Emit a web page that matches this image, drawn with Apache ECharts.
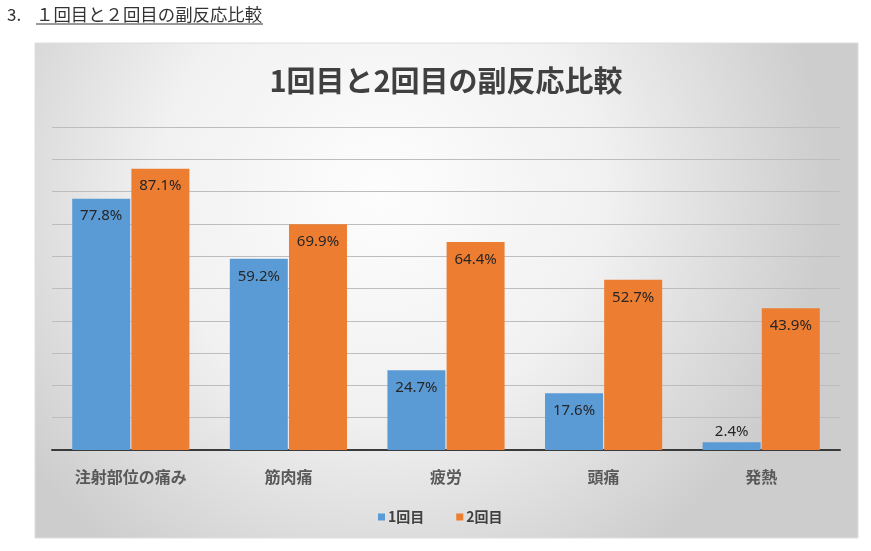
<!DOCTYPE html>
<html>
<head>
<meta charset="utf-8">
<script src="https://cdn.jsdelivr.net/npm/echarts@6/dist/echarts.min.js"></script>
<style>
html,body{margin:0;padding:0;background:#fff;}
#c{width:871px;height:551px;}
</style>
</head>
<body>
<div id="c"></div>
<script>
const headerNumber = '3.';
const headerText = '１回目と２回目の副反応比較';
const chartTitle = '1回目と2回目の副反応比較';
const categories = ['注射部位の痛み', '筋肉痛', '疲労', '頭痛', '発熱'];
const seriesNames = ['1回目', '2回目'];
const dose1 = [77.8, 59.2, 24.7, 17.6, 2.4];
const dose2 = [87.1, 69.9, 64.4, 52.7, 43.9];

const JP = '"Noto Sans CJK JP", "Noto Sans", sans-serif';
const colors = ['#5B9BD5', '#ED7D31'];

function toData(arr) {
  return arr.map(v => v < 5
    ? { value: v, label: { position: 'top', distance: 3 } }
    : { value: v });
}

const chart = echarts.init(document.getElementById('c'), null, { renderer: 'canvas' });
chart.setOption({
  animation: false,
  backgroundColor: '#ffffff',
  graphic: [
    {
      type: 'rect', z: -10, silent: true,
      shape: { x: 35, y: 43, width: 823, height: 495 },
      style: {
        fill: {
          type: 'radial', x: 0.42, y: 0.3, r: 0.9,
          colorStops: [
            { offset: 0, color: '#fdfdfd' },
            { offset: 0.5, color: '#f1f1f1' },
            { offset: 1, color: '#cdcdcd' }
          ]
        },
        stroke: '#dedede', lineWidth: 1
      }
    },
    {
      type: 'text', left: 7, top: 6,
      style: { text: headerNumber, font: '17px ' + JP, fill: '#333' }
    },
    {
      type: 'text', left: 36, top: 6,
      style: { text: headerText, font: '17.4px ' + JP, fill: '#333' }
    },
    {
      type: 'line', silent: true,
      shape: { x1: 36, y1: 24, x2: 263, y2: 24 },
      style: { stroke: '#333', lineWidth: 1 }
    },
    {
      type: 'text', x: 446, y: 81,
      style: { text: chartTitle, font: 'bold 29px ' + JP, fill: '#404040',
               textAlign: 'center', textVerticalAlign: 'middle' }
    }
  ],
  legend: {
    data: seriesNames,
    left: 373,
    top: 505,
    itemWidth: 7,
    itemHeight: 7,
    itemGap: 32,
    icon: 'rect',
    textStyle: { fontFamily: JP, fontSize: 14, fontWeight: 'bold', color: '#404040', padding: [0, 0, 0, -2] }
  },
  grid: { left: 52, right: 31, top: 127, bottom: 101, containLabel: false },
  xAxis: {
    type: 'category',
    data: categories,
    axisLine: { show: true, lineStyle: { color: '#3a3a3a', width: 2 } },
    axisTick: { show: false },
    axisLabel: { fontFamily: JP, fontSize: 16, fontWeight: 'bold', color: '#595959', margin: 19 }
  },
  yAxis: {
    type: 'value',
    min: 0, max: 100, interval: 10,
    axisLabel: { show: false },
    axisLine: { show: false },
    axisTick: { show: false },
    splitLine: { show: true, lineStyle: { color: '#bdbdbd', width: 1 } }
  },
  series: [
    {
      name: seriesNames[0], type: 'bar', data: toData(dose1),
      barWidth: 58, barGap: '2%',
      itemStyle: { color: colors[0] },
      label: { show: true, position: 'insideTop', distance: 10, formatter: p => p.value.toFixed(1) + '%',
               fontFamily: '"Noto Sans", sans-serif', fontSize: 15, color: '#262626' }
    },
    {
      name: seriesNames[1], type: 'bar', data: toData(dose2),
      barWidth: 58, barGap: '2%',
      itemStyle: { color: colors[1] },
      label: { show: true, position: 'insideTop', distance: 10, formatter: p => p.value.toFixed(1) + '%',
               fontFamily: '"Noto Sans", sans-serif', fontSize: 15, color: '#262626' }
    }
  ]
});
</script>
</body>
</html>
